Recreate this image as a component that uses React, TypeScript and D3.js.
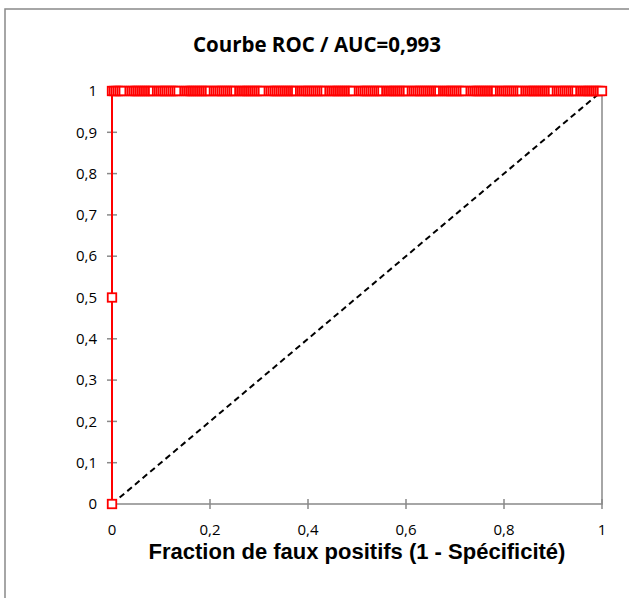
import React from 'react';
import * as d3 from 'd3';

// ROC points: false-positive counts (out of N negatives) along the top edge
const N_NEG = 250;
const fpCounts = [
  1, 2, 3, 4, 5, 6, 9, 10, 11, 12, 13, 14, 15, 16, 17, 18, 19, 20,
  21, 23, 24, 25, 26, 27, 28, 29, 30, 31, 32, 33, 34, 37, 38, 39, 40,
  41, 42, 43, 44, 45, 46, 47, 48, 49, 50, 52, 53, 54, 55, 56, 57, 58, 59, 60,
  61, 62, 63, 65, 66, 67, 68, 69, 70, 71, 72, 73, 74, 75, 76, 77, 80,
  81, 82, 83, 84, 85, 86, 87, 88, 89, 90, 91, 92, 93, 94, 96, 97, 98, 99, 100,
  101, 102, 103, 104, 105, 106, 107, 108, 109, 111, 112, 113, 114, 115, 116, 117, 118, 119, 120,
  121, 122, 123, 126, 127, 128, 129, 130, 131, 132, 133, 134, 135, 136, 137, 138, 140,
  141, 142, 143, 144, 145, 146, 147, 148, 149, 150, 151, 153, 154, 155, 156, 157, 158, 159, 160,
  161, 162, 163, 164, 165, 166, 167, 169, 170, 171, 172, 173, 174, 175, 176, 177, 178, 179, 180,
  183, 184, 185, 186, 187, 188, 189, 190, 191, 192, 193, 194, 195, 196, 198, 199, 200,
  201, 202, 203, 204, 205, 206, 207, 208, 209, 211, 212, 213, 214, 215, 216, 217, 218, 219, 220,
  221, 222, 223, 224, 225, 227, 228, 229, 230, 231, 232, 233, 234, 235, 236, 237, 239, 240,
  241, 242, 243, 244, 245, 246, 247, 248, 249, 250,
];
// points on the y axis before the top edge
const startFpr = [0, 0, 0];
const startTpr = [0, 0.5, 1];

const yTicks = [0, 0.1, 0.2, 0.3, 0.4, 0.5, 0.6, 0.7, 0.8, 0.9, 1];
const xTicks = [0, 0.2, 0.4, 0.6, 0.8, 1];

const title = 'Courbe ROC / AUC=0,993';
const xTitle = 'Fraction de faux positifs (1 - Spécificité)';

const W = 629;
const H = 598;

const fmt = (v: number) => String(v).replace('.', ',');

export default function App() {
  const x = d3.scaleLinear().domain([0, 1]).range([112, 602]);
  const y = d3.scaleLinear().domain([0, 1]).range([504, 91]);

  const pts: [number, number][] = [
    ...startFpr.map((f, i) => [f, startTpr[i]] as [number, number]),
    ...fpCounts.map((c) => [c / N_NEG, 1] as [number, number]),
  ];

  const line = d3
    .line<[number, number]>()
    .x((d) => x(d[0]))
    .y((d) => y(d[1]));

  const grey = '#898989';
  const ms = 8.5;

  return (
    <svg
      width={W}
      height={H}
      style={{ position: 'absolute', left: 0, top: 0, background: '#fff' }}
    >
      <rect x={0} y={0} width={W} height={H} fill="#fff" />
      <rect x={5} y={9} width={W + 20} height={H + 20} fill="#fff" stroke={grey} strokeWidth={1.5} />

      <text
        x={317}
        y={52}
        textAnchor="middle"
        fontFamily="'Open Sans', sans-serif"
        fontWeight="bold"
        fontSize={20.5}
        fill="#000"
      >
        {title}
      </text>

      {/* plot area border */}
      <rect
        x={x(0)}
        y={y(1)}
        width={x(1) - x(0)}
        height={y(0) - y(1)}
        fill="none"
        stroke={grey}
        strokeWidth={1.5}
      />

      {/* y axis */}
      {yTicks.map((t) => (
        <g key={'y' + t}>
          <line x1={x(0) - 5} x2={x(0) + 5} y1={y(t)} y2={y(t)} stroke={grey} strokeWidth={1.5} />
          <text
            x={97}
            y={y(t)}
            dy="0.35em"
            textAnchor="end"
            fontFamily="'Open Sans', sans-serif"
            fontSize={15}
            fill="#000"
          >
            {fmt(t)}
          </text>
        </g>
      ))}

      {/* x axis */}
      {xTicks.map((t) => (
        <g key={'x' + t}>
          <line x1={x(t)} x2={x(t)} y1={y(0) - 5} y2={y(0) + 5} stroke={grey} strokeWidth={1.5} />
          <text
            x={x(t)}
            y={535}
            textAnchor="middle"
            fontFamily="'Open Sans', sans-serif"
            fontSize={15}
            fill="#000"
          >
            {fmt(t)}
          </text>
        </g>
      ))}

      <text
        x={357}
        y={559}
        textAnchor="middle"
        fontFamily="'Liberation Sans', Arial, sans-serif"
        fontWeight="bold"
        fontSize={22}
        fill="#000"
      >
        {xTitle}
      </text>

      {/* diagonal reference */}
      <line
        x1={x(0)}
        y1={y(0)}
        x2={x(1)}
        y2={y(1)}
        stroke="#000"
        strokeWidth={2}
        strokeDasharray="6,4"
      />

      {/* ROC curve */}
      <path d={line(pts) || ''} fill="none" stroke="#ff0000" strokeWidth={2} />
      {pts.map((d, i) => (
        <rect
          key={i}
          x={x(d[0]) - ms / 2}
          y={y(d[1]) - ms / 2}
          width={ms}
          height={ms}
          fill="#fff"
          stroke="#ff0000"
          strokeWidth={1.8}
        />
      ))}
    </svg>
  );
}
